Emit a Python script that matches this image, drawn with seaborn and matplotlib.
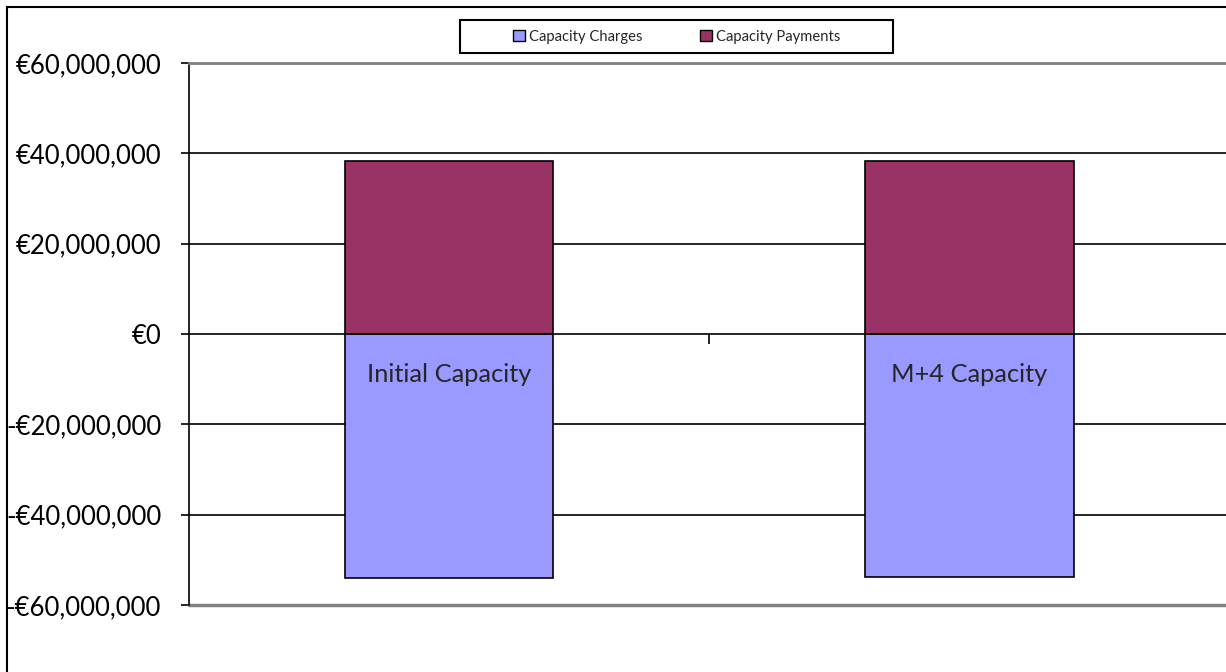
import matplotlib
matplotlib.use("Agg")
import matplotlib.pyplot as plt
import matplotlib.patches as mpatches
import matplotlib.ticker as mticker
import seaborn as sns

sns.set_style("white")
plt.rcParams["font.family"] = ["Lato", "DejaVu Sans"]

# ── DATA ─────────────────────────────────────────────────────────────────────
categories = ["Initial Capacity", "M+4 Capacity"]
charges = [-54.1e6, -53.9e6]
payments = [38.3e6, 38.3e6]
series_names = ["Capacity Charges", "Capacity Payments"]
y_ticks = [-60e6, -40e6, -20e6, 0, 20e6, 40e6, 60e6]

COLORS = {"charges": "#9999FF", "payments": "#993366"}

fig = plt.figure(figsize=(12.26, 6.72), dpi=100)
ax = fig.add_axes([189 / 1226, 1 - 605 / 672, 1 - 189 / 1226 + 0.003, (605 - 63) / 672])

sns.barplot(x=categories, y=charges, color=COLORS["charges"], width=0.4,
            edgecolor="black", linewidth=1.2, saturation=1, ax=ax, zorder=3)
sns.barplot(x=categories, y=payments, color=COLORS["payments"], width=0.4,
            edgecolor="black", linewidth=1.2, saturation=1, ax=ax, zorder=3)

ax.set_xlim(-0.5, 1.5)
ax.set_ylim(y_ticks[0], y_ticks[-1])

# y axis
ax.set_yticks(y_ticks)
ax.yaxis.set_major_formatter(mticker.FuncFormatter(
    lambda v, p: ("-€" if v < 0 else "€") + f"{abs(v):,.0f}"))
ax.tick_params(axis="y", which="major", left=True, length=6, width=1.2,
               direction="out", pad=14, labelsize=18.5, colors="black")
for y in y_ticks[1:-1]:
    if y != 0:
        ax.axhline(y, color="black", linewidth=1.2, zorder=1)

# x axis on zero line, tick between categories
ax.spines["bottom"].set_position(("data", 0))
ax.spines["bottom"].set_linewidth(1.2)
ax.spines["bottom"].set_color("black")
ax.set_xticks([0.5])
ax.set_xticklabels([])
ax.tick_params(axis="x", bottom=True, length=7, width=1.2, direction="out", colors="black")
ax.set_xlabel("")

ax.spines["left"].set_color("black")
ax.spines["left"].set_linewidth(1.2)
ax.spines["top"].set_color("#808080")
ax.spines["top"].set_linewidth(2)
ax.spines["right"].set_visible(False)
ax.axhline(y_ticks[0], color="#808080", linewidth=2.5, zorder=1, clip_on=False)

# category labels inside the charge bars
for i, cat in enumerate(categories):
    ax.annotate(cat, (i, 0), xytext=(0, -21), textcoords="offset points",
                ha="center", va="top", fontsize=18.3, zorder=5)

# legend (frame drawn separately so it can be wide and short like the original)
handles = [mpatches.Patch(facecolor=COLORS["charges"], edgecolor="black", label=series_names[0]),
           mpatches.Patch(facecolor=COLORS["payments"], edgecolor="black", label=series_names[1])]
fig.legend(handles=handles, loc="center", ncol=2,
           bbox_to_anchor=(676.5 / 1226, 1 - 36.5 / 672),
           fontsize=10.6, frameon=False, handlelength=0.8, handleheight=0.8,
           handletextpad=0.27, columnspacing=3.9)
fig.patches.append(mpatches.Rectangle((460 / 1226, 1 - 53 / 672), 433 / 1226, 33 / 672,
                                      transform=fig.transFigure, fill=False,
                                      edgecolor="black", linewidth=1.5))

# outer chart border
fig.patches.append(mpatches.Rectangle((7 / 1226, -0.1), 1.2, 1 - 7 / 672 + 0.1,
                                      transform=fig.transFigure, fill=False,
                                      edgecolor="black", linewidth=1.5))

fig.savefig("out.png", dpi=100)
